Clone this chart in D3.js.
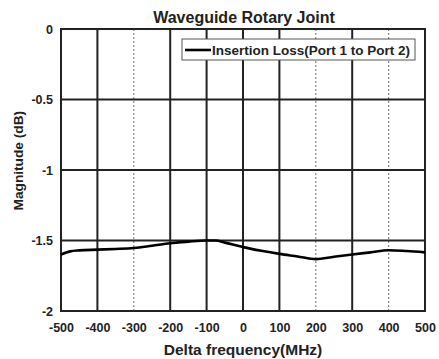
<!DOCTYPE html>
<html>
<head>
<meta charset="utf-8">
<script src="https://cdn.jsdelivr.net/npm/d3@7"></script>
<style>
  body { margin: 0; background: #fff; }
  svg text { font-family: Arial, "Liberation Sans", sans-serif; font-weight: bold; fill: #222; }
</style>
</head>
<body>
<div id="chart"></div>
<script>
// data
const freqs = [-500, -475, -450, -400, -350, -300, -250, -200, -150, -100, -75, -50, 0, 50, 100, 150, 200, 250, 300, 350, 400, 450, 500];
const loss = [-1.60, -1.577, -1.57, -1.565, -1.56, -1.553, -1.537, -1.52, -1.508, -1.50, -1.50, -1.515, -1.547, -1.573, -1.595, -1.613, -1.632, -1.615, -1.599, -1.584, -1.569, -1.575, -1.584];
const xTicks = [-500, -400, -300, -200, -100, 0, 100, 200, 300, 400, 500];
const yTicks = [0, -0.5, -1, -1.5, -2];
const dottedX = [-300, 200, 400]; // grid lines that render as grey dots
const seriesName = 'Insertion Loss(Port 1 to Port 2)';

const width = 439, height = 359;
const margin = { left: 61, right: 14, top: 29, bottom: 48 };
const iw = width - margin.left - margin.right;
const ih = height - margin.top - margin.bottom;

const svg = d3.select('#chart').append('svg')
    .attr('width', width)
    .attr('height', height);

const x = d3.scaleLinear().domain([-500, 500]).range([margin.left, margin.left + iw]);
const y = d3.scaleLinear().domain([-2, 0]).range([margin.top + ih, margin.top]);

// grid
const grid = svg.append('g');
xTicks.slice(1, -1).forEach(t => {
    const dotted = dottedX.includes(t);
    grid.append('line')
        .attr('x1', x(t)).attr('x2', x(t))
        .attr('y1', y(0)).attr('y2', y(-2))
        .attr('stroke', dotted ? '#888' : '#222')
        .attr('stroke-width', dotted ? 1.2 : 2)
        .attr('stroke-dasharray', dotted ? '2,2' : null);
});
yTicks.slice(1, -1).forEach(t => {
    grid.append('line')
        .attr('x1', x(-500)).attr('x2', x(500))
        .attr('y1', y(t)).attr('y2', y(t))
        .attr('stroke', '#222')
        .attr('stroke-width', 2);
});

// frame
svg.append('rect')
    .attr('x', margin.left).attr('y', margin.top)
    .attr('width', iw).attr('height', ih)
    .attr('fill', 'none')
    .attr('stroke', '#222')
    .attr('stroke-width', 2);

// tick labels (plain hyphen minus like the original)
const xAxis = svg.append('g')
    .attr('transform', `translate(0,${margin.top + ih})`)
    .call(d3.axisBottom(x).tickValues(xTicks).tickSize(0).tickPadding(12).tickFormat(d => String(d)));
xAxis.select('.domain').remove();
xAxis.selectAll('text').style('font-size', '12.5px').style('fill', '#222');

const yAxis = svg.append('g')
    .attr('transform', `translate(${margin.left},0)`)
    .call(d3.axisLeft(y).tickValues(yTicks).tickSize(0).tickPadding(8).tickFormat(d => String(d)));
yAxis.select('.domain').remove();
yAxis.selectAll('text').style('font-size', '12.5px').style('fill', '#222');

// the data line
const line = d3.line()
    .x((d, i) => x(freqs[i]))
    .y(d => y(d))
    .curve(d3.curveMonotoneX);

svg.append('path')
    .datum(loss)
    .attr('d', line)
    .attr('fill', 'none')
    .attr('stroke', '#000')
    .attr('stroke-width', 2.6);

// title and axis titles
svg.append('text')
    .attr('x', 244).attr('y', 22.5)
    .attr('text-anchor', 'middle')
    .style('font-size', '16px')
    .text('Waveguide Rotary Joint');

svg.append('text')
    .attr('x', 243).attr('y', 355)
    .attr('text-anchor', 'middle')
    .style('font-size', '15.5px')
    .text('Delta frequency(MHz)');

svg.append('text')
    .attr('transform', `translate(23,${160.7}) rotate(-90)`)
    .attr('text-anchor', 'middle')
    .style('font-size', '13.7px')
    .text('Magnitude (dB)');

// legend
const legend = svg.append('g');
legend.append('rect')
    .attr('x', 182).attr('y', 39)
    .attr('width', 233).attr('height', 21)
    .attr('fill', '#fff')
    .attr('stroke', '#555')
    .attr('stroke-width', 1);
legend.append('line')
    .attr('x1', 185).attr('x2', 211)
    .attr('y1', 50).attr('y2', 50)
    .attr('stroke', '#000')
    .attr('stroke-width', 2.6);
legend.append('text')
    .attr('x', 212).attr('y', 55)
    .style('font-size', '13.5px')
    .text(seriesName);
</script>
</body>
</html>
